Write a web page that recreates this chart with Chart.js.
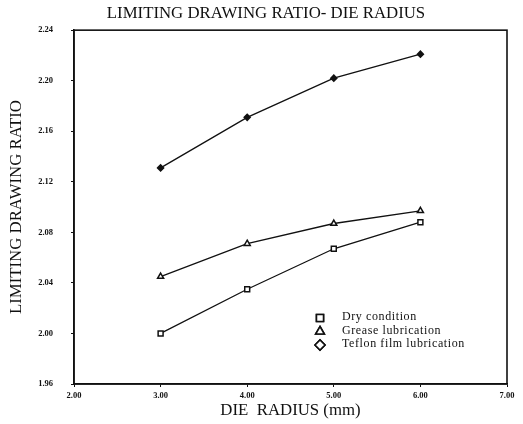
<!DOCTYPE html>
<html>
<head>
<meta charset="utf-8">
<script src="https://cdn.jsdelivr.net/npm/chart.js@4"></script>
<style>
  html, body { margin: 0; padding: 0; background: #fff; }
  #wrap { width: 523px; height: 424px; }
</style>
</head>
<body>
<div id="wrap"><canvas id="ldr" width="523" height="424"></canvas></div>
<script>
// die radius (mm) on x, limiting drawing ratio on y
const radius = [3.0, 4.0, 5.0, 6.0];
const dryLDR = [2.000, 2.035, 2.067, 2.088];
const greaseLDR = [2.045, 2.071, 2.087, 2.097];
const teflonLDR = [2.131, 2.171, 2.202, 2.221];

const xTicks = [2, 3, 4, 5, 6, 7];
const yTicks = [1.96, 2.00, 2.04, 2.08, 2.12, 2.16, 2.20, 2.24];

const seriesNames = ['Dry condition', 'Grease lubrication', 'Teflon film lubrication'];

const INK = '#111';
const SERIF = '"Liberation Serif", "DejaVu Serif", serif';
const LABEL_SIZE = 16.8;

const toPts = ys => radius.map((x, i) => ({ x, y: ys[i] }));

function series(label, ys, style, filled, r) {
  return {
    label, data: toPts(ys),
    borderColor: INK, borderWidth: 1.3,
    pointStyle: style, pointRadius: r,
    pointBackgroundColor: filled ? INK : '#fff',
    pointBorderColor: INK, pointBorderWidth: 1.5,
    tension: 0,
  };
}

// box around the plot area + legend block inside it
const frameAndKey = {
  id: 'frameAndKey',
  afterDraw(chart) {
    const { ctx, chartArea: a } = chart;
    ctx.save();
    ctx.strokeStyle = INK;
    ctx.lineWidth = 1.6;
    ctx.strokeRect(a.left, a.top, a.right - a.left, a.bottom - a.top);

    const styles = ['rect', 'triangle', 'rectRot'];
    ctx.font = '12px ' + SERIF;
    ctx.letterSpacing = '0.6px';
    ctx.textBaseline = 'middle';
    seriesNames.forEach((name, i) => {
      const y = 318 + i * 13.5;
      ctx.lineWidth = 1.6;
      ctx.fillStyle = '#fff';
      Chart.helpers.drawPoint(ctx, { pointStyle: styles[i], radius: 5, rotation: 0, borderWidth: 1.6 }, 320, y);
      ctx.fill();
      ctx.stroke();
      ctx.fillStyle = INK;
      ctx.fillText(name, 342, y - 1);
    });
    ctx.restore();
  }
};

new Chart(document.getElementById('ldr'), {
  type: 'line',
  data: {
    datasets: [
      series(seriesNames[0], dryLDR, 'rect', false, 3.5),
      series(seriesNames[1], greaseLDR, 'triangle', false, 3.5),
      series(seriesNames[2], teflonLDR, 'rectRot', true, 3),
    ],
  },
  options: {
    responsive: false,
    animation: false,
    // left padding nudges the centred title to the right
    layout: { padding: { left: 25, right: 16, top: 0, bottom: 0 } },
    plugins: {
      legend: { display: false },
      tooltip: { enabled: false },
      title: {
        display: true,
        text: 'LIMITING DRAWING RATIO- DIE RADIUS',
        color: INK,
        font: { family: SERIF, size: LABEL_SIZE, weight: 'normal' },
        padding: { top: 4, bottom: 6 },
      },
    },
    scales: {
      x: {
        type: 'linear', min: 2, max: 7,
        afterBuildTicks: s => { s.ticks = xTicks.map(v => ({ value: v })); },
        afterFit: s => { s.height = 40; },
        grid: { display: true, drawOnChartArea: false, color: INK, tickLength: 3 },
        border: { color: INK, width: 1.6 },
        ticks: {
          color: INK, padding: 4,
          font: { family: SERIF, size: 8.5, weight: 'bold' },
          callback: v => Number(v).toFixed(2),
        },
        title: {
          display: true, text: 'DIE  RADIUS (mm)', color: INK,
          font: { family: SERIF, size: LABEL_SIZE }, padding: { top: 0, bottom: 3 },
        },
      },
      y: {
        type: 'linear', min: 1.96, max: 2.24,
        afterBuildTicks: s => { s.ticks = yTicks.map(v => ({ value: v })); },
        afterFit: s => { s.width = 49; },
        grid: { display: true, drawOnChartArea: false, color: INK, tickLength: 3 },
        border: { color: INK, width: 1.6 },
        ticks: {
          color: INK, padding: 18,
          font: { family: SERIF, size: 8.5, weight: 'bold' },
          callback: v => Number(v).toFixed(2),
        },
        title: {
          display: true, text: 'LIMITING DRAWING RATIO', color: INK,
          font: { family: SERIF, size: LABEL_SIZE }, padding: { top: -18, bottom: 0 },
        },
      },
    },
  },
  plugins: [frameAndKey],
});
</script>
</body>
</html>
